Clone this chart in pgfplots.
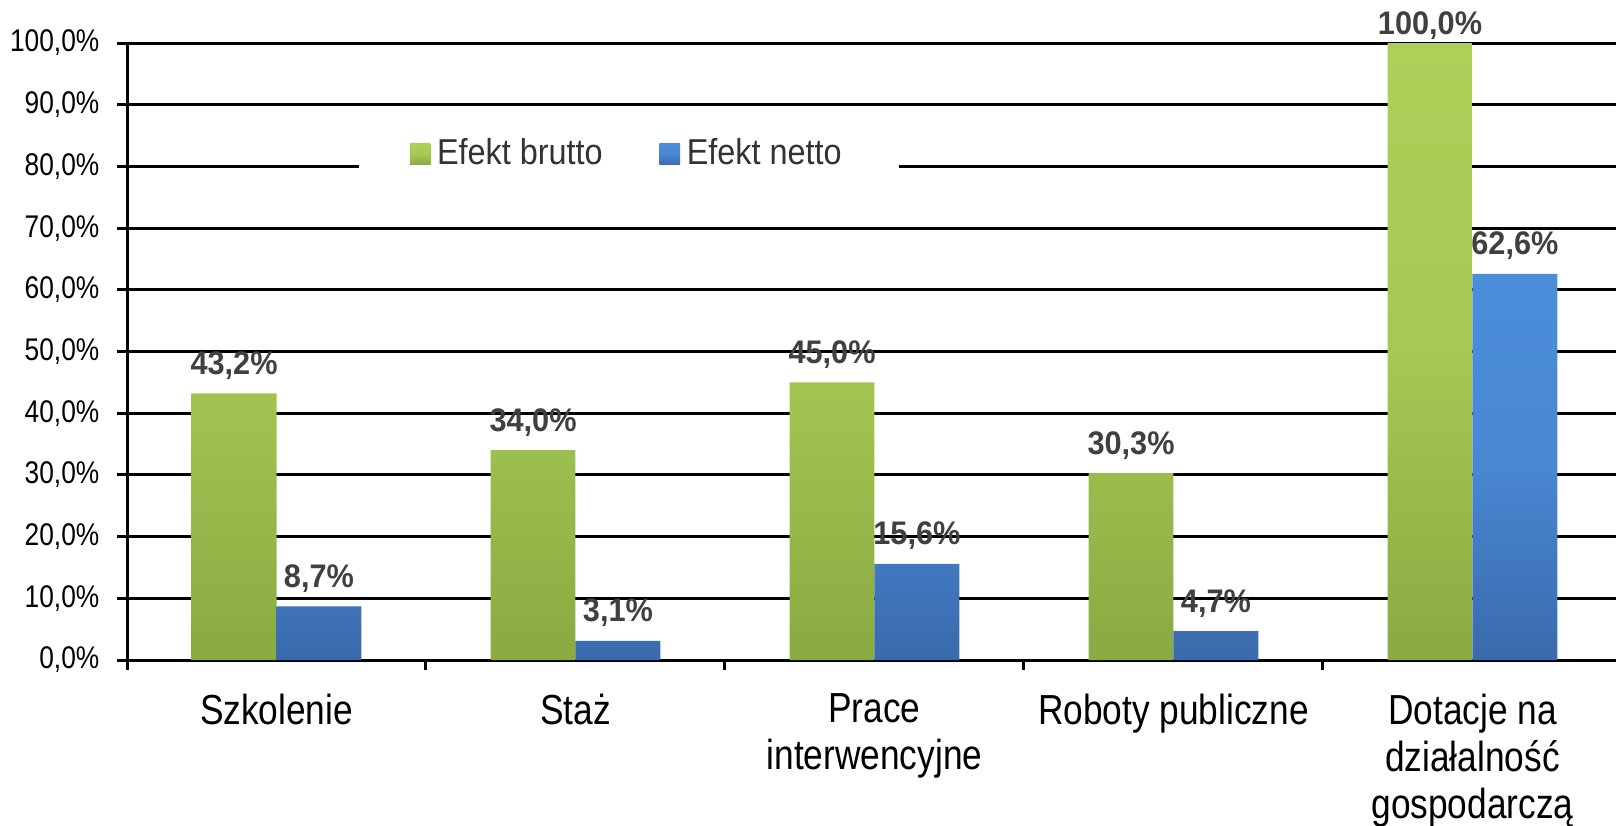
\documentclass[border=0pt]{standalone}
\usepackage{fontspec}
\setmainfont{Liberation Sans}[FakeStretch=0.84]
\newfontfamily\lblfont{Liberation Sans}[FakeStretch=0.94]
\newfontfamily\legfont{Liberation Sans}[FakeStretch=0.9]
\usepackage{pgfplots}
\usepackage{pgfplotstable}
\pgfplotsset{compat=1.18}
\definecolor{greenT}{RGB}{172,208,88}
\definecolor{greenB}{RGB}{138,170,66}
\definecolor{blueT}{RGB}{76,142,218}
\definecolor{blueB}{RGB}{58,106,172}
\definecolor{lblgray}{RGB}{64,64,64}
\definecolor{leggray}{RGB}{51,51,51}
\pgfplotsset{mylegend/.style={legend image code/.code={\draw[##1,draw=none] (0pt,-3.2pt) rectangle (6.2pt,3.2pt);}}}

\pgfplotstableread{
x y dy
0 43.2 5.7
1 34.0 5.7
2 45.0 5.7
3 30.3 5.7
4 100.0 2.6
}\brutto
\pgfplotstableread{
x y dy
0 8.7 5.7
1 3.1 5.7
2 15.6 5.7
3 4.7 5.7
4 62.6 5.7
}\netto

\begin{document}
\begin{tikzpicture}
\useasboundingbox (-38.1pt,-49.5pt) rectangle (446.7pt,198pt);
\begin{axis}[
  at={(0pt,0pt)}, anchor=south west,
  scale only axis, width=446.7pt, height=185.1pt,
  xmin=-0.5, xmax=4.48, ymin=0, ymax=100,
  enlarge x limits=false, enlarge y limits=false,
  clip=false,
  /pgf/number format/assume math mode=true,
  axis x line*=bottom, axis y line*=left,
  axis line style={black, line width=0.9pt, -},
  ybar=0pt, bar width=0.284,
  ytick={0,10,...,100},
  yticklabel={\pgfmathprintnumber[fixed,fixed zerofill,precision=1,use comma]{\tick}\%},
  yticklabel style={font=\fontsize{9.4}{11}\selectfont, inner sep=0pt, xshift=-5.2pt, text=black},
  ymajorgrids, major grid style={black, line width=0.9pt},
  tick align=outside, major tick length=2.9pt,
  tick style={black, line width=0.9pt},
  xtick={-0.5,0.5,...,4.5},
  xticklabels={,,,,,},
  extra x ticks={0,1,2,3,4},
  extra x tick labels={Szkolenie, Staż, {Prace\\interwencyjne}, Roboty publiczne, {Dotacje na\\działalność\\gospodarczą}},
  extra x tick style={grid=none, major tick length=0pt,
    xticklabel style={font=\fontsize{12.6}{14.1}\selectfont, align=center, anchor=north, inner sep=0pt, yshift=-10pt, text=black}},
  legend columns=2,
  legend style={draw=none, fill=white, at={(rel axis cs:0.1552,0.82)}, anchor=west,
    inner xsep=15.3pt, inner ysep=5pt,
    font=\legfont\fontsize{10.8}{12}\selectfont, text=leggray,
    /tikz/every even column/.append style={column sep=15pt}},
  nodes near coords={\pgfmathprintnumber[fixed,fixed zerofill,precision=1,use comma]{\pgfplotspointmeta}\%},
  nodes near coords style={font=\lblfont\bfseries\fontsize{9.8}{11}\selectfont, text=lblgray, anchor=base, inner sep=0pt},
]
\addplot[draw=none, top color=greenT, bottom color=greenB, middle color=greenT!80!greenB,
  visualization depends on={\thisrow{dy}\as\labdy},
  nodes near coords style={yshift=\labdy pt},
  mylegend]
  table[x=x,y=y]{\brutto};
\addlegendentry{Efekt brutto}
\addplot[draw=none, top color=blueT, bottom color=blueB, middle color=blueT!80!blueB,
  nodes near coords style={yshift=5.7pt},
  mylegend]
  table[x=x,y=y]{\netto};
\addlegendentry{Efekt netto}
\end{axis}
\end{tikzpicture}
\end{document}
